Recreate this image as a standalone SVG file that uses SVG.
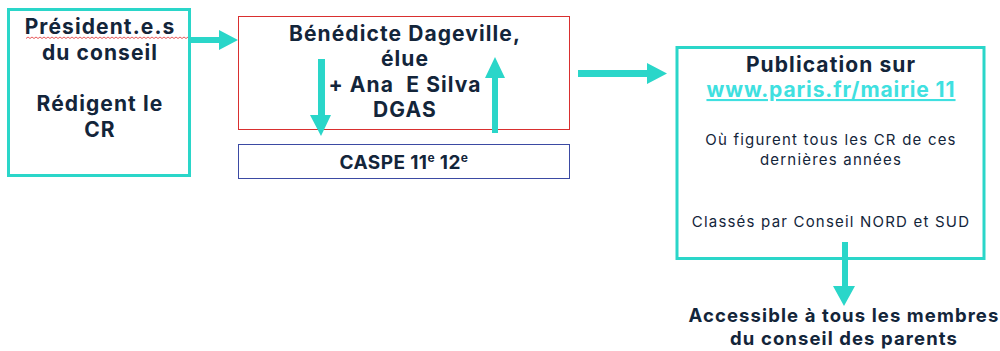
<svg xmlns="http://www.w3.org/2000/svg" width="1000" height="351" viewBox="0 0 1000 351">
<style>
.t{font-family:Inter,"Open Sans","Liberation Sans",sans-serif;fill:#13253a;text-anchor:middle;white-space:pre}
.b{font-weight:700;font-size:21px;letter-spacing:1.1px}
.r{font-weight:400;font-size:15px;letter-spacing:1.2px}
.c{font-weight:700;font-size:18.5px;letter-spacing:1.1px}
.teal{fill:none;stroke:#2ad6c9;stroke-width:3}
.arr{fill:#2ad6c9;stroke:none}
</style>
<rect width="1000" height="351" fill="#ffffff"/>
<g id="node-presidents">
<rect class="teal" x="8.5" y="9.5" width="181" height="166"/>
<text class="t b" x="100" y="34">Président.e.s</text>
<path d="M26 38.5 l2 -1.5 l2 1.5 l2 -1.5 l2 1.5 l2 -1.5 l2 1.5 l2 -1.5 l2 1.5 l2 -1.5 l2 1.5 l2 -1.5 l2 1.5 l2 -1.5 l2 1.5 l2 -1.5 l2 1.5 l2 -1.5 l2 1.5 l2 -1.5 l2 1.5 l2 -1.5 l2 1.5 l2 -1.5 l2 1.5 l2 -1.5 l2 1.5 l2 -1.5 l2 1.5 l2 -1.5 l2 1.5 l2 -1.5 l2 1.5 l2 -1.5 l2 1.5 l2 -1.5 l2 1.5 l2 -1.5 l2 1.5 l2 -1.5 l2 1.5 l2 -1.5 l2 1.5 l2 -1.5 l2 1.5 l2 -1.5 l2 1.5 l2 -1.5 l2 1.5 l2 -1.5 l2 1.5 l2 -1.5 l2 1.5 l2 -1.5 l2 1.5 l2 -1.5 l2 1.5 l2 -1.5 l2 1.5 l2 -1.5 l2 1.5 l2 -1.5 l2 1.5 l2 -1.5 l2 1.5 l2 -1.5 l2 1.5 l2 -1.5 l2 1.5 l2 -1.5 l2 1.5 l2 -1.5 l2 1.5 l2 -1.5 l2 1.5 l2 -1.5 l2 1.5 l2 -1.5 l2 1.5 l2 -1.5 l2 1.5 l2 -1.5" fill="none" stroke="#e03030" stroke-width="0.8"/>
<text class="t b" x="100" y="60">du conseil</text>
<text class="t b" x="100" y="111">Rédigent le</text>
<text class="t b" x="100" y="137">CR</text>
</g>
<g id="node-benedicte">
<rect x="238.5" y="16.5" width="331" height="113" fill="none" stroke="#d92f2f" stroke-width="1"/>
<text class="t b" x="405" y="41">Bénédicte Dageville,</text>
<text class="t b" x="405" y="66">élue</text>
<text class="t b" x="405" y="92">+ Ana  E Silva</text>
<text class="t b" x="405" y="117">DGAS</text>
</g>
<g id="node-caspe">
<rect x="238.5" y="144.5" width="331" height="34" fill="none" stroke="#3b4aa3" stroke-width="1"/>
<text class="t" x="404" y="169" style="font-weight:700;font-size:19px;letter-spacing:0.4px">CASPE 11<tspan font-size="12" dy="-7">e</tspan><tspan dy="7"> 12</tspan><tspan font-size="12" dy="-7">e</tspan></text>
</g>
<g id="node-publication">
<rect class="teal" x="677" y="47.5" width="307" height="211"/>
<text class="t b" x="831" y="72">Publication sur</text>
<text class="t b" x="831" y="97" style="fill:#3fe0e0;text-decoration:underline;letter-spacing:0.9px">www.paris.fr/mairie 11</text>
<text class="t r" x="831" y="145">Où figurent tous les CR de ces</text>
<text class="t r" x="831" y="165">dernières années</text>
<text class="t r" x="831" y="227">Classés par Conseil NORD et SUD</text>
</g>
<g id="node-accessible">
<text class="t c" x="844" y="322">Accessible à tous les membres</text>
<text class="t c" x="844" y="345">du conseil des parents</text>
</g>
<g id="connectors">
<path class="arr" d="M190 37 H219 V30 L238 40 L219 50 V43 H190 Z"/>
<path class="arr" d="M318 59 H325 V115 H331 L321 136 L310 115 H318 Z"/>
<path class="arr" d="M492 133 H498 V78 H505 L495 57 L485 78 H492 Z"/>
<path class="arr" d="M578 70 H647 V63 L667 73.5 L647 84 V77 H578 Z"/>
<path class="arr" d="M842 242 H848 V286 H855 L844 306 L833 286 H842 Z"/>
</g>
</svg>
